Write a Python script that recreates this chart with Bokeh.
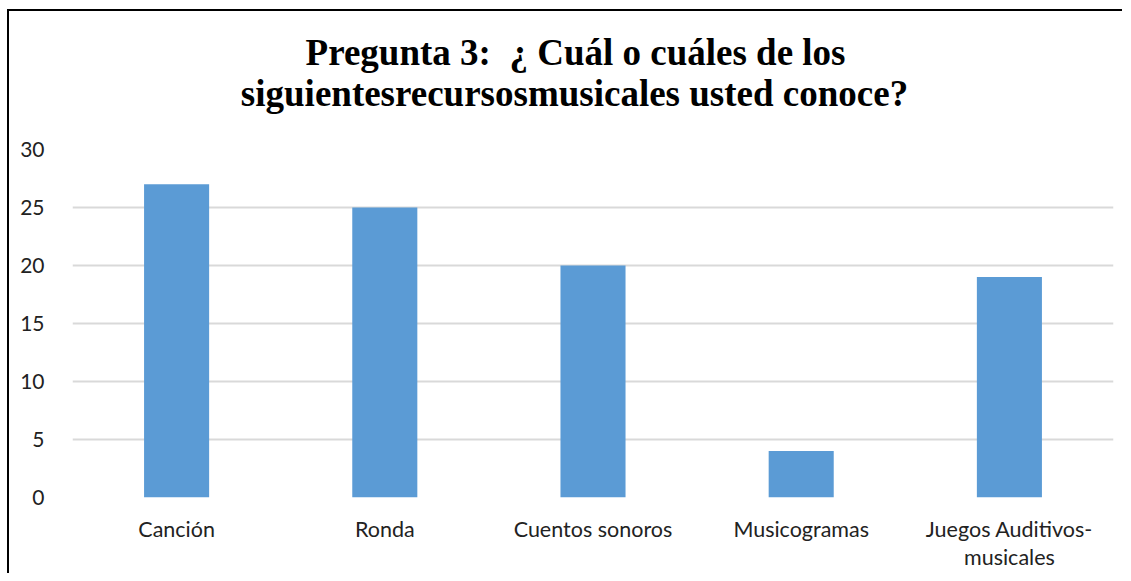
from bokeh.plotting import figure
from bokeh.models import FixedTicker, Range1d
from bokeh.embed import file_html
from bokeh.resources import INLINE

categories = ["Canción", "Ronda", "Cuentos sonoros", "Musicogramas", "Juegos Auditivos-\nmusicales"]
values = [27, 25, 20, 4, 19]
y_ticks = [0, 5, 10, 15, 20, 25, 30]
title_line1 = "Pregunta 3:\u00a0 ¿ Cuál o cuáles de los"
title_line2 = "siguientesrecursosmusicales usted conoce?"

nb = "\u00a0"
title_text = nb * 7 + title_line1 + "\n" + title_line2 + nb * 4 + "\n" + nb

p = figure(x_range=categories, y_range=Range1d(0, 30), width=1115, height=564,
           output_backend="svg", toolbar_location=None, title=title_text,
           min_border_left=63, min_border_right=11, min_border_bottom=78, min_border_top=138)
p.styles = {"border-left": "2px solid black", "border-top": "2px solid black",
            "margin-left": "7px", "margin-top": "9px"}

p.vbar(x=categories, top=values, width=0.3125, color="#5B9BD5", line_color=None)

p.title.align = "center"
p.title.vertical_align = "bottom"
p.title.text_font = "Liberation Serif"
p.title.text_font_size = "37px"
p.title.text_font_style = "bold"
p.title.text_color = "black"
p.title.text_line_height = 1.0
p.title.standoff = -11

p.outline_line_color = None
p.xgrid.grid_line_color = None
p.ygrid.grid_line_color = "#D9D9D9"
p.ygrid.grid_line_width = 2
p.yaxis.ticker = FixedTicker(ticks=y_ticks)
for ax in (p.xaxis[0], p.yaxis[0]):
    ax.axis_line_color = None
    ax.major_tick_line_color = None
    ax.minor_tick_line_color = None
    ax.major_label_text_font = "Lato"
    ax.major_label_text_color = "#222222"
p.xaxis.major_label_text_font_size = "21.5px"
p.xaxis.major_label_text_line_height = 1.1
p.yaxis.major_label_text_font_size = "21px"
p.yaxis.major_label_standoff = 22
p.xaxis.major_label_standoff = 12
p.background_fill_color = "white"
p.border_fill_color = "white"

open("out.html", "w").write(file_html(p, INLINE))
